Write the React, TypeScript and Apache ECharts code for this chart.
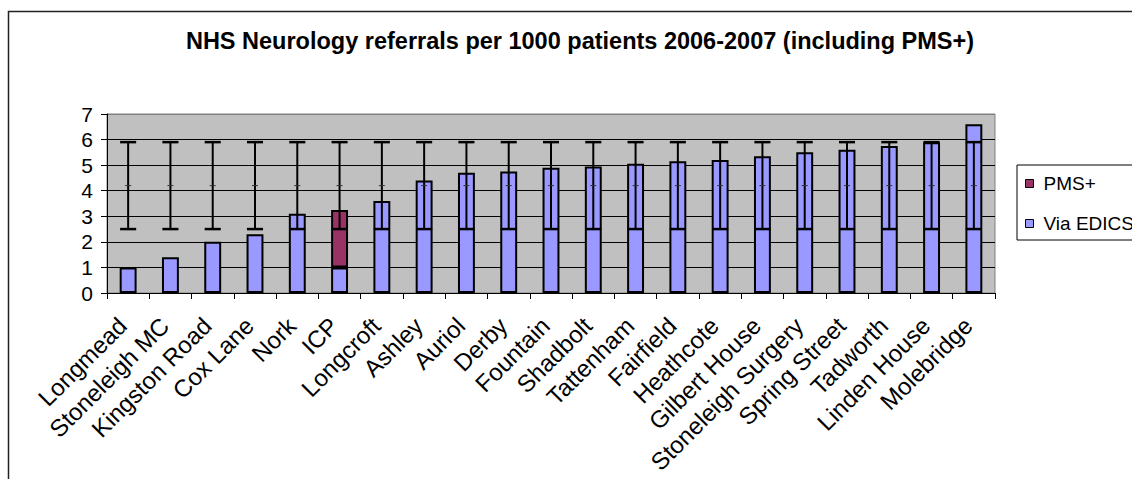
import React, { useEffect, useRef } from "react";
import * as echarts from "echarts";

const categories = [
  "Longmead", "Stoneleigh MC", "Kingston Road", "Cox Lane", "Nork", "ICP", "Longcroft",
  "Ashley", "Auriol", "Derby", "Fountain", "Shadbolt", "Tattenham", "Fairfield",
  "Heathcote", "Gilbert House", "Stoneleigh Surgery", "Spring Street", "Tadworth",
  "Linden House", "Molebridge",
];
const viaEdics = [1.0, 1.4, 2.0, 2.3, 3.1, 1.0, 3.6, 4.4, 4.7, 4.75, 4.9, 4.95, 5.05, 5.15, 5.2, 5.35, 5.5, 5.6, 5.75, 5.9, 6.6];
const pmsPlus = [null, null, null, null, null, 2.25, null, null, null, null, null, null, null, null, null, null, null, null, null, null, null];
const rangeLow = [2.5, 2.5, 2.5, 2.5, 2.5, 2.5, 2.5, 2.5, 2.5, 2.5, 2.5, 2.5, 2.5, 2.5, 2.5, 2.5, 2.5, 2.5, 2.5, 2.5, 2.5];
const rangeMid = [4.2, 4.2, 4.2, 4.2, 4.2, 4.2, 4.2, 4.2, 4.2, 4.2, 4.2, 4.2, 4.2, 4.2, 4.2, 4.2, 4.2, 4.2, 4.2, 4.2, 4.2];
const rangeHigh = [5.9, 5.9, 5.9, 5.9, 5.9, 5.9, 5.9, 5.9, 5.9, 5.9, 5.9, 5.9, 5.9, 5.9, 5.9, 5.9, 5.9, 5.9, 5.9, 5.9, 5.9];
const legendNames = ["PMS+", "Via EDICS"];
const titleText = "NHS Neurology referrals per 1000 patients 2006-2007 (including PMS+)";

const FONT = "'Liberation Sans', Arial, sans-serif";

export default function App() {
  const ref = useRef<HTMLDivElement>(null);

  useEffect(() => {
    if (!ref.current) return;
    const chart = echarts.init(ref.current, null, { renderer: "svg" });
    const rangeData = categories.map((_, i) => [i, rangeLow[i], rangeMid[i], rangeHigh[i]]);

    chart.setOption({
      animation: false,
      backgroundColor: "#ffffff",
      textStyle: { fontFamily: FONT },
      graphic: [
        {
          type: "rect",
          shape: { x: 8.5, y: 11.5, width: 1400, height: 800 },
          style: { fill: "none", stroke: "#222", lineWidth: 1.5 },
          silent: true,
          z: -10,
        },
        {
          type: "text",
          x: 580,
          y: 41,
          style: {
            text: titleText,
            fontFamily: FONT,
            fontSize: 23.5,
            fontWeight: "bold",
            fill: "#000",
            align: "center",
            verticalAlign: "middle",
          },
        },
      ],
      legend: {
        data: legendNames,
        orient: "vertical",
        left: 1017,
        top: 165,
        icon: "rect",
        itemWidth: 8,
        itemHeight: 8,
        itemGap: 21,
        padding: [9, 12, 7, 8],
        backgroundColor: "#fff",
        borderColor: "#000",
        borderWidth: 1,
        itemStyle: { borderColor: "#000", borderWidth: 1 },
        textStyle: { fontFamily: FONT, fontSize: 19, color: "#000", padding: [0, 0, 0, 5] },
      },
      grid: {
        left: 107,
        right: 137,
        top: 114,
        bottom: 186,
        show: true,
        backgroundColor: "#C0C0C0",
        borderColor: "#808080",
        borderWidth: 1,
      },
      xAxis: {
        type: "category",
        data: categories,
        boundaryGap: true,
        axisLine: { show: true, lineStyle: { color: "#000", width: 1 } },
        axisTick: { show: true, length: 6, lineStyle: { color: "#000" } },
        axisLabel: {
          rotate: 45,
          interval: 0,
          margin: 23,
          padding: [0, 8, 0, 0],
          fontFamily: FONT,
          fontSize: 24,
          color: "#000",
        },
      },
      yAxis: {
        type: "value",
        min: 0,
        max: 7,
        interval: 1,
        axisLine: { show: true, lineStyle: { color: "#000", width: 1 } },
        axisTick: { show: true, length: 6, lineStyle: { color: "#000" } },
        axisLabel: { margin: 14, fontFamily: FONT, fontSize: 21, color: "#000" },
        splitLine: {
          show: true,
          lineStyle: {
            color: ["#000", "#000", "#000", "#000", "#000", "#000", "#000", "#808080"],
            width: 1,
          },
        },
      },
      series: [
        {
          name: "Via EDICS",
          type: "bar",
          stack: "total",
          data: viaEdics,
          barWidth: "40%",
          itemStyle: { color: "#9999FF", borderColor: "#000", borderWidth: 2 },
          z: 2,
        },
        {
          name: "PMS+",
          type: "bar",
          stack: "total",
          data: pmsPlus,
          barWidth: "40%",
          itemStyle: { color: "#993366", borderColor: "#000", borderWidth: 2 },
          z: 2,
        },
        {
          name: "range",
          type: "custom",
          data: rangeData,
          encode: { x: 0, y: [1, 2, 3] },
          z: 5,
          silent: true,
          renderItem: (params: any, api: any) => {
            const i = api.value(0);
            const lo = api.coord([i, api.value(1)]);
            const mid = api.coord([i, api.value(2)]);
            const hi = api.coord([i, api.value(3)]);
            const bw = api.size([1, 0])[0];
            const hw = bw * 0.19;
            return {
              type: "group",
              children: [
                {
                  type: "line",
                  shape: { x1: lo[0], y1: lo[1], x2: hi[0], y2: hi[1] },
                  style: { stroke: "#000", lineWidth: 2 },
                },
                {
                  type: "line",
                  shape: { x1: lo[0] - hw, y1: lo[1], x2: lo[0] + hw, y2: lo[1] },
                  style: { stroke: "#000", lineWidth: 2.5 },
                },
                {
                  type: "line",
                  shape: { x1: hi[0] - hw, y1: hi[1], x2: hi[0] + hw, y2: hi[1] },
                  style: { stroke: "#000", lineWidth: 2.5 },
                },
                {
                  type: "line",
                  shape: { x1: mid[0] - 3, y1: mid[1], x2: mid[0] + 3, y2: mid[1] },
                  style: { stroke: "#333", lineWidth: 1 },
                },
              ],
            };
          },
        },
      ],
    });

    return () => chart.dispose();
  }, []);

  return (
    <div
      ref={ref}
      style={{ position: "absolute", left: 0, top: 0, width: 1132, height: 479 }}
    />
  );
}
